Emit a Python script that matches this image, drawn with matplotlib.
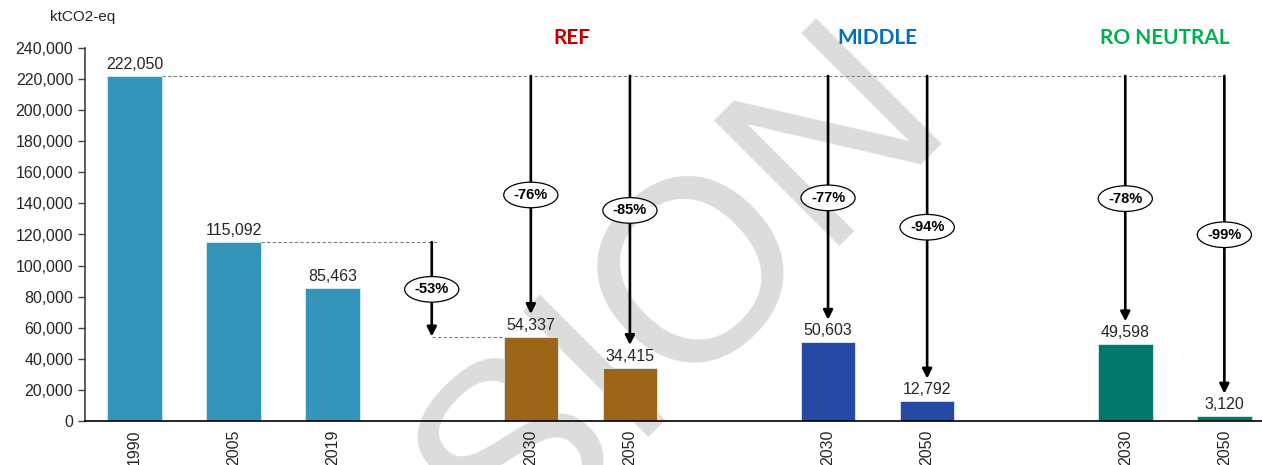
import matplotlib
matplotlib.use('Agg')
import matplotlib.pyplot as plt
from matplotlib.transforms import blended_transform_factory

# data
years = ['1990', '2005', '2019', '2030', '2050', '2030', '2050', '2030', '2050']
values = [222050, 115092, 85463, 54337, 34415, 50603, 12792, 49598, 3120]
groups = ['hist', 'hist', 'hist', 'REF', 'REF', 'MIDDLE', 'MIDDLE', 'RO NEUTRAL', 'RO NEUTRAL']
pct_labels = ['-76%', '-85%', '-77%', '-94%', '-78%', '-99%']   # vs 1990
pct_2005 = '-53%'                                               # REF 2030 vs 2005
scenarios = ['REF', 'MIDDLE', 'RO NEUTRAL']

# styles
bar_cols = {'hist': '#3494BA', 'REF': '#9C6518', 'MIDDLE': '#2649A5', 'RO NEUTRAL': '#00786B'}
title_cols = {'REF': '#C00000', 'MIDDLE': '#0070C0', 'RO NEUTRAL': '#00B050'}
title_x = {'REF': 4.41, 'MIDDLE': 7.5, 'RO NEUTRAL': 10.4}
xpos = [0, 1, 2, 4, 5, 7, 8, 10, 11]
bw = 0.55
txtcol = '#262626'
font = 'Liberation Sans'

plt.rcParams['font.family'] = [font, 'DejaVu Sans']

fig = plt.figure(figsize=(12.62, 4.65), dpi=100)
ax = fig.add_axes([85/1262, 44/465, 1 - 85/1262, 373/465])
ax.set_facecolor('none')
ax.set_zorder(1)

# watermark (only partly inside the picture)
fig.text(507/1262, 1 - 567/465, 'SION', fontsize=186, color='#DCDCDC',
         rotation=45, rotation_mode='anchor', ha='left', va='baseline',
         zorder=0, family=font)

ax.bar(xpos, values, width=bw, color=[bar_cols[g] for g in groups],
       edgecolor='#d8ecf4', linewidth=0.6, zorder=2)

for x, v in zip(xpos, values):
    ax.text(x, v + 2500, f'{v:,}', ha='center', va='bottom', fontsize=11.5,
            color=txtcol)

dash = dict(color='#7F7F7F', lw=0.8, ls=(0, (3, 2)), zorder=1)
base = values[0]
ax.plot([xpos[0] + bw/2, xpos[-1]], [base, base], **dash)
ax.plot([xpos[1] + bw/2, 3.05], [values[1], values[1]], **dash)
ax.plot([3, xpos[3] - bw/2], [values[3], values[3]], **dash)

aprops = dict(arrowstyle='-|>', color='black', lw=1.9, mutation_scale=14,
              shrinkA=0, shrinkB=0)
lbox = dict(boxstyle='ellipse,pad=0.14', fc='white', ec='black', lw=0.9)


def drop(x, y0, y1, label):
    ax.annotate('', xy=(x, y1), xytext=(x, y0), arrowprops=aprops, zorder=3)
    ax.text(x, (y0 + y1) / 2, label, ha='center', va='center', fontsize=10.5,
            fontweight='bold', color='black', bbox=lbox, zorder=4)


drop(3, values[1], values[3], pct_2005)
for x, v, lab in zip(xpos[3:], values[3:], pct_labels):
    drop(x, base, v + 14500, lab)

tr = blended_transform_factory(ax.transData, ax.transAxes)
for s in scenarios:
    ax.text(title_x[s], 1.027, s, transform=tr, ha='center', va='center',
            fontsize=15, fontweight='bold', color=title_cols[s],
            family=['Lato', 'DejaVu Sans'])

fig.text(50/1262, 1 - 17/465, 'ktCO2-eq', ha='left', va='center',
         fontsize=11, color=txtcol)

ax.set_xlim(-0.5, 11.38)
ax.set_ylim(0, 240000)
ax.set_yticks(range(0, 240001, 20000))
ax.set_yticklabels([f'{t:,}' for t in range(0, 240001, 20000)])
ax.set_xticks(xpos)
ax.set_xticklabels(years, rotation=90)
ax.tick_params(axis='y', labelsize=11.5, labelcolor=txtcol, length=5,
               color='#404040', width=1)
ax.tick_params(axis='x', labelsize=11.5, labelcolor=txtcol, length=0, pad=6)
for side in ['top', 'right']:
    ax.spines[side].set_visible(False)
ax.spines['left'].set_color('#404040')
ax.spines['left'].set_linewidth(1.2)
ax.spines['bottom'].set_color('black')
ax.spines['bottom'].set_linewidth(1.2)

fig.savefig('out.png', dpi=100)
